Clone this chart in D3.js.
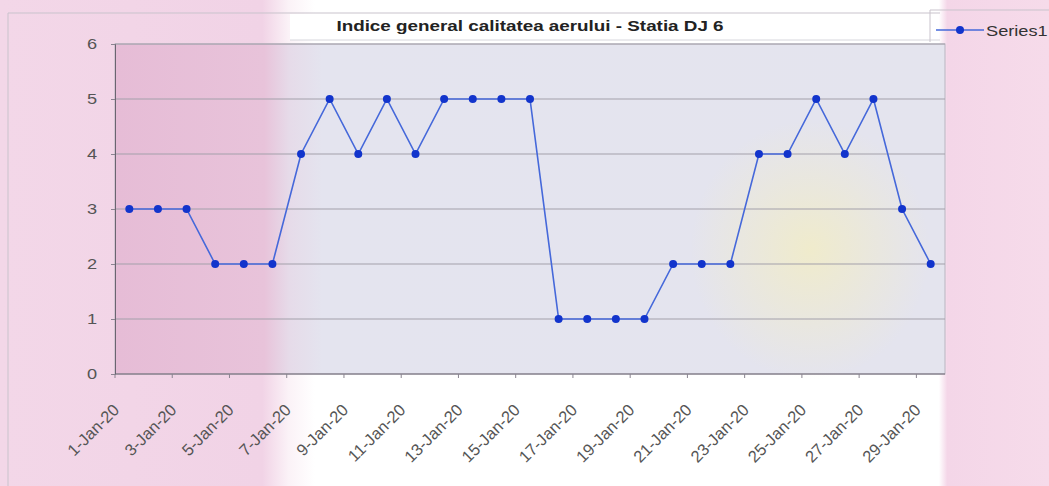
<!DOCTYPE html>
<html>
<head>
<meta charset="utf-8">
<script src="https://cdn.jsdelivr.net/npm/d3@7"></script>
<style>
  body { margin: 0; background: #fff; }
  svg { display: block; font-family: Arial, "Liberation Sans", sans-serif; }
</style>
</head>
<body>
<svg id="chart" width="1049" height="486"></svg>
<script>
// categories: one per day, 1-Jan-20 .. 29-Jan-20
const days = d3.range(1, 30).map(d => d + '-Jan-20');
const values = [3, 3, 3, 2, 2, 2, 4, 5, 4, 5, 4, 5, 5, 5, 5, 1, 1, 1, 1, 2, 2, 2, 4, 4, 5, 4, 5, 3, 2];
const yTicks = [0, 1, 2, 3, 4, 5, 6];
const title = 'Indice general calitatea aerului - Statia DJ 6';
const seriesName = 'Series1';

const svg = d3.select('#chart');
const W = 1049, H = 486;
const plot = { left: 115, right: 945, top: 44, bottom: 374 };
const sx = 1.3; // the scan is stretched sideways

// scanned paper background
const defs = svg.append('defs');
let pg = defs.append('linearGradient').attr('id', 'paper').attr('x1', 0).attr('x2', 1).attr('y1', 0).attr('y2', 0);
[[0, '#f3d7e8'], [0.25, '#f1d3e6'], [0.275, '#fbf2f7'], [0.3, '#ffffff'], [0.895, '#ffffff'], [0.903, '#f4d6e8'], [1, '#f6dbea']]
    .forEach(s => pg.append('stop').attr('offset', s[0]).attr('stop-color', s[1]));

let ag = defs.append('linearGradient').attr('id', 'area').attr('x1', 0).attr('x2', 1).attr('y1', 0).attr('y2', 0);
[[0, '#e6bcd6'], [0.18, '#e8c3da'], [0.21, '#e6dbe9'], [0.25, '#e4e4ef'], [1, '#e4e4ee']]
    .forEach(s => ag.append('stop').attr('offset', s[0]).attr('stop-color', s[1]));

let yg = defs.append('radialGradient').attr('id', 'yel');
yg.append('stop').attr('offset', 0).attr('stop-color', '#f1ecc8').attr('stop-opacity', 0.9);
yg.append('stop').attr('offset', 1).attr('stop-color', '#f1ecc8').attr('stop-opacity', 0);

svg.append('rect').attr('width', W).attr('height', H).attr('fill', 'url(#paper)');

// chart outer border
svg.append('path')
    .attr('d', `M8,${H} V13 H940`)
    .attr('fill', 'none').attr('stroke', '#c9c3cc').attr('stroke-width', 1);

// title band
svg.append('rect').attr('x', 290).attr('y', 14).attr('width', 640).attr('height', 26).attr('fill', '#fff');
svg.append('line').attr('x1', 290).attr('x2', 940).attr('y1', 40).attr('y2', 40).attr('stroke', '#d6d6dc');
svg.append('text')
    .attr('transform', `translate(530,31) scale(${sx},1)`)
    .attr('text-anchor', 'middle')
    .attr('font-size', 14.5).attr('font-weight', 'bold').attr('fill', '#222')
    .text(title);

const x = d3.scalePoint().domain(days).range([plot.left, plot.right]).padding(0.5);
const y = d3.scaleLinear().domain([0, 6]).range([plot.bottom, plot.top]);

// plot area
svg.append('rect')
    .attr('x', plot.left).attr('y', plot.top)
    .attr('width', plot.right - plot.left).attr('height', plot.bottom - plot.top)
    .attr('fill', 'url(#area)').attr('stroke', '#b8b4c0');
svg.append('ellipse').attr('cx', 810).attr('cy', 250).attr('rx', 120).attr('ry', 130).attr('fill', 'url(#yel)');

// gridlines
svg.append('g').selectAll('line')
    .data(yTicks.slice(1))
    .join('line')
    .attr('x1', plot.left).attr('x2', plot.right)
    .attr('y1', d => y(d)).attr('y2', d => y(d))
    .attr('stroke', '#a3a0aa').attr('stroke-width', 1);

// y axis
const yAxis = svg.append('g')
    .attr('transform', `translate(${plot.left},0)`)
    .call(d3.axisLeft(y).tickValues(yTicks).tickSize(4).tickFormat(''));
yAxis.select('.domain').attr('stroke', '#6b6470');
yAxis.selectAll('.tick line').attr('stroke', '#8a8490');
svg.append('g').selectAll('text')
    .data(yTicks)
    .join('text')
    .attr('transform', d => `translate(${plot.left - 18},${y(d) + 5}) scale(${sx},1)`)
    .attr('text-anchor', 'end')
    .attr('font-size', 14).attr('fill', '#555')
    .text(d => d);

// x axis: ticks between every second category, labels every second day
const step = x.step();
const xAxis = svg.append('g').attr('transform', `translate(0,${plot.bottom})`);
xAxis.append('line').attr('x1', plot.left).attr('x2', plot.right).attr('stroke', '#6b6470');
xAxis.selectAll('line.tk')
    .data(d3.range(0, days.length + 1, 2))
    .join('line').attr('class', 'tk')
    .attr('x1', i => plot.left + i * step).attr('x2', i => plot.left + i * step)
    .attr('y1', 0).attr('y2', 4)
    .attr('stroke', '#8a8490');
xAxis.selectAll('text')
    .data(days.filter((d, i) => i % 2 === 0))
    .join('text')
    .attr('transform', d => `translate(${x(d) - 9},37) rotate(-45)`)
    .attr('text-anchor', 'end')
    .attr('font-size', 16.5).attr('fill', '#555')
    .text(d => d);

// series
const line = d3.line().x((d, i) => x(days[i])).y(d => y(d));
svg.append('path')
    .datum(values)
    .attr('d', line)
    .attr('fill', 'none').attr('stroke', '#4568da').attr('stroke-width', 1.6);
svg.append('g').selectAll('circle')
    .data(values)
    .join('circle')
    .attr('cx', (d, i) => x(days[i])).attr('cy', d => y(d))
    .attr('r', 4).attr('fill', '#1234cc');

// legend
const lg = svg.append('g');
lg.append('path').attr('d', 'M930,42 V10 H1049').attr('fill', 'none').attr('stroke', '#c9c3cc');
lg.append('line').attr('x1', 936).attr('x2', 984).attr('y1', 30).attr('y2', 30)
    .attr('stroke', '#4568da').attr('stroke-width', 1.6);
lg.append('circle').attr('cx', 960).attr('cy', 30).attr('r', 4).attr('fill', '#1234cc');
lg.append('text').attr('transform', `translate(986,32) scale(${sx},1)`)
    .attr('font-size', 14).attr('fill', '#333')
    .attr('dominant-baseline', 'middle').text(seriesName);
</script>
</body>
</html>
